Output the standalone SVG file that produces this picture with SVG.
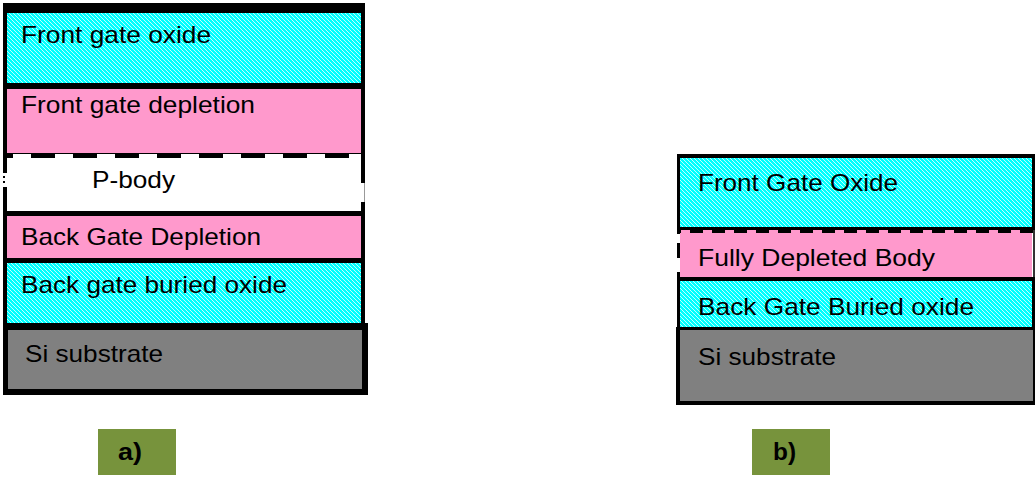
<svg xmlns="http://www.w3.org/2000/svg" width="1035" height="477" viewBox="0 0 1035 477">
  <style>
    .t { font-family: "Liberation Sans", Arial, sans-serif; font-size: 24px; fill: #000; }
    .lbl { font-family: "Liberation Sans", Arial, sans-serif; font-size: 23px; font-weight: bold; fill: #000; }
    .blk { fill: #000; }
    .pink { fill: #FF99CC; }
    .gray { fill: #808080; }
    .ox { fill: url(#hatch); }
    .tag { fill: #77933C; }
  </style>
  <defs>
    <pattern id="hatch" patternUnits="userSpaceOnUse" width="4" height="4">
      <rect width="4" height="4" fill="#00FFFF"/>
      <path d="M-1,-1 L5,5 M-1,3 L1,5 M3,-1 L5,1" stroke="#FFFFFF" stroke-width="0.9" opacity="0.85"/>
    </pattern>
  </defs>
  <rect width="1035" height="477" fill="#FFFFFF"/>

  <!-- Diagram a) -->
  <g id="a-front-gate-oxide">
    <rect class="blk" x="3" y="3" width="362" height="86"/>
    <rect class="ox" x="7" y="13" width="354" height="70"/>
    <text class="t" x="21" y="43" textLength="190" lengthAdjust="spacingAndGlyphs">Front gate oxide</text>
  </g>
  <g id="a-front-gate-depletion">
    <rect class="blk" x="3" y="89" width="4" height="69"/>
    <rect class="blk" x="361" y="89" width="4" height="69"/>
    <rect class="pink" x="7" y="89" width="354" height="64"/>
    <line x1="7" y1="153.5" x2="361" y2="153.5" stroke="#000" stroke-width="1"/>
    <line x1="7" y1="155.5" x2="361" y2="155.5" stroke="#000" stroke-width="5" stroke-dasharray="24 18" stroke-dashoffset="18"/>
    <text class="t" x="21" y="113" textLength="234" lengthAdjust="spacingAndGlyphs">Front gate depletion</text>
  </g>
  <g id="a-p-body">
    <rect x="7" y="158" width="354" height="53" fill="#FFFFFF"/>
    <rect class="blk" x="3" y="158" width="4" height="15"/>
    <rect class="blk" x="3" y="176" width="2" height="2"/>
    <rect class="blk" x="3" y="181" width="2" height="2"/>
    <rect class="blk" x="3" y="187" width="4" height="24"/>
    <rect class="blk" x="361" y="158" width="4" height="25"/>
    <rect x="364" y="183" width="1" height="19" fill="#999"/>
    <rect class="blk" x="361" y="202" width="4" height="9"/>
    <text class="t" x="92" y="188" textLength="83" lengthAdjust="spacingAndGlyphs">P-body</text>
  </g>
  <g id="a-back-gate-depletion">
    <rect class="blk" x="3" y="211" width="362" height="52"/>
    <rect class="pink" x="7" y="216" width="354" height="42"/>
    <text class="t" x="21" y="245" textLength="240" lengthAdjust="spacingAndGlyphs">Back Gate Depletion</text>
  </g>
  <g id="a-back-gate-buried-oxide">
    <rect class="blk" x="3" y="263" width="362" height="62"/>
    <rect class="ox" x="7" y="263" width="354" height="60"/>
    <text class="t" x="21" y="293" textLength="266" lengthAdjust="spacingAndGlyphs">Back gate buried oxide</text>
  </g>
  <g id="a-si-substrate">
    <rect class="blk" x="3" y="323" width="365" height="72"/>
    <rect class="gray" x="8" y="330" width="354" height="59"/>
    <text class="t" x="25" y="362" textLength="138" lengthAdjust="spacingAndGlyphs">Si substrate</text>
  </g>
  <g id="label-a">
    <rect class="tag" x="98" y="429" width="78" height="46"/>
    <text class="lbl" x="118" y="460" textLength="24" lengthAdjust="spacingAndGlyphs">a)</text>
  </g>

  <!-- Diagram b) -->
  <g id="b-front-gate-oxide">
    <rect class="blk" x="677" y="154" width="358" height="76"/>
    <rect class="ox" x="680" y="158" width="352" height="69"/>
    <text class="t" x="698" y="191" textLength="200" lengthAdjust="spacingAndGlyphs">Front Gate Oxide</text>
  </g>
  <g id="b-fully-depleted-body">
    <rect class="pink" x="680" y="230" width="352" height="47"/>
    <rect x="1033" y="230" width="2" height="47" fill="#333"/>
    <line x1="680" y1="231" x2="1033" y2="231" stroke="#000" stroke-width="4" stroke-dasharray="13 9" stroke-dashoffset="12"/>
    <rect class="blk" x="677" y="229" width="3" height="5"/>
    <rect class="blk" x="677" y="243" width="3" height="15"/>
    <rect class="blk" x="677" y="272" width="3" height="5"/>
    <text class="t" x="698" y="266" textLength="237" lengthAdjust="spacingAndGlyphs">Fully Depleted Body</text>
  </g>
  <g id="b-back-gate-buried-oxide">
    <rect class="blk" x="677" y="277" width="358" height="53"/>
    <rect class="ox" x="680" y="281" width="352" height="46"/>
    <text class="t" x="698" y="315" textLength="276" lengthAdjust="spacingAndGlyphs">Back Gate Buried oxide</text>
  </g>
  <g id="b-si-substrate">
    <rect class="blk" x="676" y="327" width="359" height="78"/>
    <rect class="gray" x="680" y="330" width="353" height="71"/>
    <text class="t" x="698" y="365" textLength="138" lengthAdjust="spacingAndGlyphs">Si substrate</text>
  </g>
  <g id="label-b">
    <rect class="tag" x="752" y="429" width="78" height="46"/>
    <text class="lbl" x="773" y="460" textLength="23" lengthAdjust="spacingAndGlyphs">b)</text>
  </g>

  <g id="connectors"></g>
</svg>
